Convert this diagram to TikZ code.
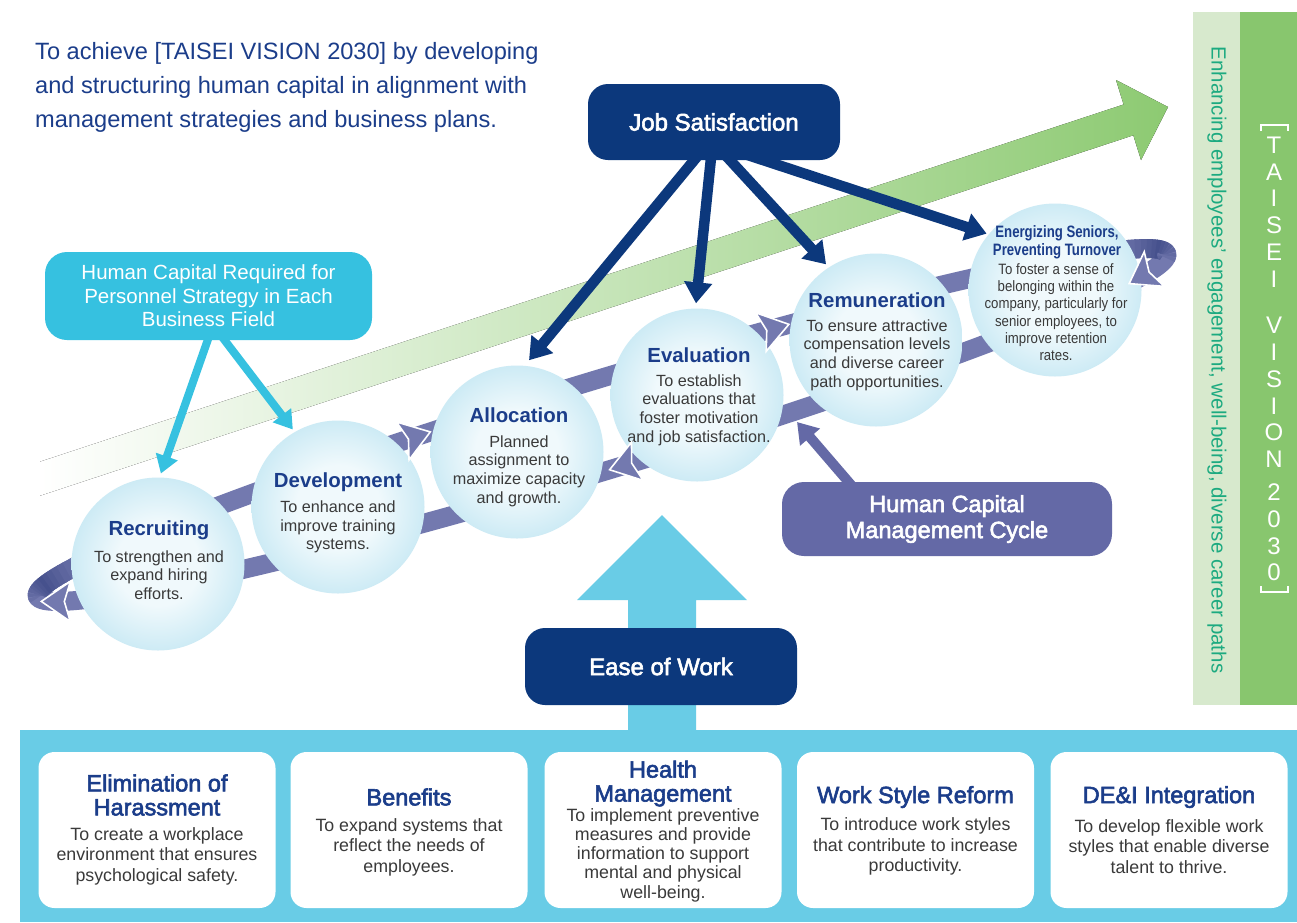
\documentclass[tikz,border=0pt]{standalone}
\usepackage{fontspec}
\setmainfont{Liberation Sans}
\newfontfamily\medfont[FakeBold=2.5]{Liberation Sans}
\newfontfamily\condtitle[FakeStretch=0.8]{Liberation Sans}
\newfontfamily\conddesc[FakeStretch=0.88]{Liberation Sans}
\usetikzlibrary{arrows.meta,calc}

\definecolor{navy}{HTML}{0C387C}
\definecolor{inkblue}{HTML}{1B3D8A}
\definecolor{txtgray}{HTML}{3A3A3A}
\definecolor{skycyan}{HTML}{36C1E0}
\definecolor{panelcyan}{HTML}{69CCE6}
\definecolor{ringpurple}{HTML}{7379AF}
\definecolor{ringdark}{HTML}{3B4784}
\definecolor{cyclebox}{HTML}{6469A6}
\definecolor{palegreen}{HTML}{D7E9CD}
\definecolor{leafgreen}{HTML}{88C66E}
\definecolor{arrowgreen}{HTML}{8DCA72}
\definecolor{sidetext}{HTML}{1CAA80}
\definecolor{bubbleedge}{HTML}{7CC8E2}
\definecolor{bubblemid}{HTML}{B5E1F0}
\definecolor{bubblecore}{HTML}{F0F9FC}

\pgfdeclareradialshading{bubbleshade}{\pgfpoint{0bp}{0bp}}{%
  color(0bp)=(bubblecore); color(12bp)=(bubblecore); color(34bp)=(bubblemid); color(50bp)=(bubbleedge)}

\pgfdeclarelayer{ground}
\pgfdeclarelayer{links}
\pgfsetlayers{ground,links,main}

% arrowhead sitting on the tilted cycle ring, at ring parameter #1 (degrees)
\newcommand\cycletip[1]{%
  \pgfmathsetmacro\tipx{602+564.6*cos(#1)+13.05*sin(#1)}%
  \pgfmathsetmacro\tipy{425-171.1*cos(#1)+43.07*sin(#1)}%
  \pgfmathsetmacro\tipdx{-564.6*sin(#1)+13.05*cos(#1)}%
  \pgfmathsetmacro\tipdy{171.1*sin(#1)+43.07*cos(#1)}%
  \pgfmathsetmacro\tipang{atan2(-\tipdy,\tipdx)}%
  \begin{scope}[shift={(\tipx,\tipy)},rotate=\tipang]
    \filldraw[ringtip] (16,0) -- (-13,-20) -- (-7,0) -- (-13,20) -- cycle;
  \end{scope}}

\tikzset{
  bubblecirc/.style={circle, minimum size=173pt, inner sep=0pt, shading=bubbleshade},
  ctitle/.style={inner sep=0pt, text=inkblue, font=\fontsize{20.4}{23}\selectfont\bfseries},
  cdesc/.style={inner sep=0pt, text=txtgray, align=center, font=\fontsize{16.2}{18.7}\selectfont},
  btitle/.style={inner sep=0pt, text=inkblue, align=center, font=\medfont\fontsize{23.5}{24}\selectfont},
  bdesc/.style={inner sep=0pt, text=txtgray, align=center, font=\fontsize{17.8}{20.5}\selectfont},
  cardbox/.style={fill=white, rounded corners=16pt, minimum width=237pt, minimum height=156pt, inner sep=0pt},
  navybox/.style={fill=navy, rounded corners=20pt, text=white, inner sep=0pt, font=\medfont\fontsize{24}{26}\selectfont},
  navyarrow/.style={draw=navy, line width=10.5pt, -{Triangle[length=21pt,width=27pt]}},
  cyanarrow/.style={draw=skycyan, line width=8pt, -{Triangle[length=18pt,width=22pt]}},
  cyclearrow/.style={draw=cyclebox, line width=10pt, -{Triangle[length=20pt,width=25pt]}},
  ringband/.style={draw=ringpurple, line width=19pt},
  ringtip/.style={fill=ringpurple, draw=white, line width=1.6pt, line join=miter},
  visletter/.style={inner sep=0pt, text=white, font=\fontsize{24}{24}\selectfont},
}

\begin{document}
\begin{tikzpicture}[x=1pt,y=-1pt]
\useasboundingbox (0,0) rectangle (1297,922);

\begin{pgfonlayer}{ground}
\fill[white] (0,0) rectangle (1297,922);

% vision bands on the right
\fill[palegreen] (1193,12) rectangle (1240,705);
\fill[leafgreen] (1240,12) rectangle (1297,705);
\node[rotate=-90, inner sep=0pt, text=sidetext, font=\fontsize{20.5}{24}\selectfont] (sidenote) at (1217,360)
  {Enhancing employees’ engagement, well-being, diverse career paths};
\draw[white, line width=1.4pt] (1261,131) -- (1261,125) -- (1288,125) -- (1288,131);
\draw[white, line width=1.4pt] (1261,586) -- (1261,592) -- (1288,592) -- (1288,586);
\foreach \ch/\yy [count=\k] in {T/145,A/172,I/198,S/225,E/252,I/279,V/325,I/352,S/379,I/406,O/432,N/459,2/492,0/519,3/546,0/572}
  \node[visletter] (vis\k) at (1274,\yy) {\ch};

% rising green arrow
\fill[left color=white, right color=arrowgreen]
  (40,461.7) -- (1123.6,104.5) -- (1116,80) -- (1168,107) -- (1141,160) -- (1133.3,135.3) -- (40,495.7) -- cycle;

% management cycle ring
\draw[ringband] plot[smooth cycle, domain=0:358, samples=180, variable=\t]
  ({602+564.6*cos(\t)+13.05*sin(\t)},{425-171.1*cos(\t)+43.07*sin(\t)});
\foreach \a in {178,180,...,208}{
  \pgfmathtruncatemacro\pct{max(0,80-5*abs(\a-190))}
  \pgfmathsetmacro\b{\a+2.5}
  \draw[line width=19pt, draw=ringdark!\pct!ringpurple] plot[domain=\a:\b, samples=3, variable=\t]
    ({602+564.6*cos(\t)+13.05*sin(\t)},{425-171.1*cos(\t)+43.07*sin(\t)});
}
\foreach \a in {334,336,...,362}{
  \pgfmathtruncatemacro\pct{max(0,80-5*abs(\a-350))}
  \pgfmathsetmacro\b{\a+2.5}
  \draw[line width=19pt, draw=ringdark!\pct!ringpurple] plot[domain=\a:\b, samples=3, variable=\t]
    ({602+564.6*cos(\t)+13.05*sin(\t)},{425-171.1*cos(\t)+43.07*sin(\t)});
}
\end{pgfonlayer}

% headline
\node[anchor=west, align=left, inner sep=0pt, text=inkblue, font=\fontsize{23.6}{34}\selectfont] (headline) at (35,87)
  {To achieve [TAISEI VISION 2030] by developing\\and structuring human capital in alignment with\\management strategies and business plans.};

% cycle stages
\node[bubblecirc] (rec) at (158,564) {};
\node[ctitle] (rec-h) at (159,530) {Recruiting};
\node[cdesc] (rec-d) at (159,575) {To strengthen and\\expand hiring\\efforts.};

\node[bubblecirc] (dev) at (338,507) {};
\node[ctitle] (dev-h) at (338,482) {Development};
\node[cdesc] (dev-d) at (338,527) {To enhance and\\improve training\\systems.};

\node[bubblecirc] (alloc) at (517,452) {};
\node[ctitle] (alloc-h) at (519,415) {Allocation};
\node[cdesc] (alloc-d) at (519,471) {Planned\\assignment to\\maximize capacity\\and growth.};

\node[bubblecirc] (eval) at (697,395) {};
\node[ctitle] (eval-h) at (699,355) {Evaluation};
\node[cdesc] (eval-d) at (699,410) {To establish\\evaluations that\\foster motivation\\and job satisfaction.};

\node[bubblecirc] (remu) at (876,340) {};
\node[ctitle] (remu-h) at (877,300) {Remuneration};
\node[cdesc] (remu-d) at (877,355) {To ensure attractive\\compensation levels\\and diverse career\\path opportunities.};

\node[bubblecirc] (ener) at (1055,290) {};
\node[inner sep=0pt, text=inkblue, align=center, font=\condtitle\bfseries\fontsize{16.5}{18}\selectfont] (ener-h) at (1057,242)
  {Energizing Seniors,\\Preventing Turnover};
\node[inner sep=0pt, text=txtgray, align=center, font=\conddesc\fontsize{15}{17.3}\selectfont] (ener-d) at (1056,312)
  {To foster a sense of\\belonging within the\\company, particularly for\\senior employees, to\\improve retention\\rates.};

% direction marks on the ring
\cycletip{252}
\cycletip{289}
\cycletip{89}
\cycletip{166}
\cycletip{18}

% ease-of-work foundation
\fill[panelcyan] (628,731) -- (628,600) -- (577,600) -- (662,515) -- (747,600) -- (696,600) -- (696,731) -- cycle;
\node[fill=panelcyan, minimum width=1277pt, minimum height=192pt, inner sep=0pt, anchor=north west] (panel) at (20,730) {};

\node[cardbox] (card1) at (157,830) {};
\node[btitle] (card1-h) at (157,795) {Elimination of\\Harassment};
\node[bdesc] (card1-d) at (157,856) {To create a workplace\\environment that ensures\\psychological safety.};

\node[cardbox] (card2) at (409,830) {};
\node[btitle] (card2-h) at (409,797) {Benefits};
\node[bdesc] (card2-d) at (409,847) {To expand systems that\\reflect the needs of\\employees.};

\node[cardbox] (card3) at (663,830) {};
\node[btitle] (card3-h) at (663,783.5) {Health\\Management};
\node[bdesc, font=\fontsize{17.8}{19.2}\selectfont] (card3-d) at (663,855) {To implement preventive\\measures and provide\\information to support\\mental and physical\\well-being.};

\node[cardbox] (card4) at (915.5,830) {};
\node[btitle] (card4-h) at (915.5,797) {Work Style Reform};
\node[bdesc] (card4-d) at (915.5,846.5) {To introduce work styles\\that contribute to increase\\productivity.};

\node[cardbox] (card5) at (1169,830) {};
\node[btitle] (card5-h) at (1169,797) {DE\&I Integration};
\node[bdesc] (card5-d) at (1169,846.5) {To develop flexible work\\styles that enable diverse\\talent to thrive.};

% human capital requirements
\node[fill=skycyan, rounded corners=22pt, text=white, align=center, inner sep=0pt,
      font=\fontsize{20.5}{23.5}\selectfont, minimum width=327pt, minimum height=88pt] (hcr) at (208.5,296)
  {Human Capital Required for\\Personnel Strategy in Each\\Business Field};

% job satisfaction and ease of work
\node[navybox, minimum width=252pt, minimum height=76pt] (js) at (714,122) {Job Satisfaction};
\node[navybox, minimum width=272pt, minimum height=77pt] (ease) at (661,666.5) {Ease of Work};

% cycle label
\node[fill=cyclebox, rounded corners=22pt, text=white, align=center, inner sep=0pt,
      font=\medfont\fontsize{23.5}{26}\selectfont, minimum width=330pt, minimum height=74pt] (hcmc) at (947,519)
  {Human Capital\\Management Cycle};
\coordinate (ringmark) at (797,422);

% connectors, kept beneath the boxes they leave
\begin{pgfonlayer}{links}
\draw[cyanarrow, shorten >=4pt] ($(hcr.south)+(2,-8)$) -- (rec.89);
\draw[cyanarrow, shorten >=3pt] ($(hcr.south)+(10,-8)$) -- (dev.120);
\draw[navyarrow, shorten >=7pt] ($(js.south)+(-10,-12)$) -- (alloc.85);
\draw[navyarrow, shorten >=5pt] ($(js.south)+(-2,-12)$) -- (eval.91);
\draw[navyarrow, shorten >=4pt] ($(js.south)+(5,-12)$) -- (remu.123);
\draw[navyarrow, shorten >=2pt] ($(js.south)+(13,-12)$) -- (ener.140);
\draw[cyclearrow] ($(hcmc.north)+(-90,10)$) -- (ringmark);
\end{pgfonlayer}
\end{tikzpicture}
\end{document}
